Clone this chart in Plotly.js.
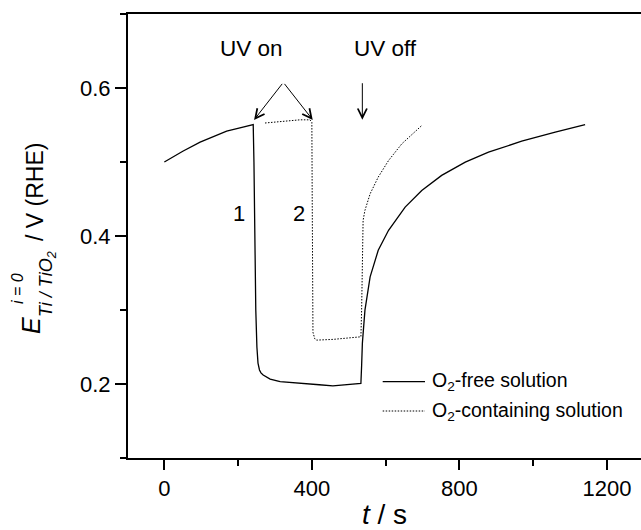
<!DOCTYPE html>
<html>
<head>
<meta charset="utf-8">
<script src="https://cdn.plot.ly/plotly-3.0.1.min.js"></script>
<style>html,body{margin:0;padding:0;background:#fff;}#chart{width:641px;height:530px;}</style>
</head>
<body>
<div id="chart"></div>
<script>
// O2-free solution (curve 1)
const tFree = [0, 50, 97, 140, 169, 205, 241, 243, 245, 248, 251, 254, 258, 262, 268, 287, 314, 350, 386, 420, 457, 495, 533, 535, 537, 544, 558, 580, 608, 653, 698, 752, 816, 879, 969, 1060, 1141];
const eFree = [0.500, 0.5145, 0.5268, 0.536, 0.5416, 0.546, 0.5506, 0.50, 0.40, 0.30, 0.25, 0.2283, 0.219, 0.215, 0.2121, 0.2067, 0.2031, 0.202, 0.2009, 0.199, 0.1975, 0.199, 0.2009, 0.225, 0.2549, 0.2998, 0.3447, 0.3807, 0.4077, 0.4391, 0.4616, 0.4819, 0.4998, 0.5133, 0.5281, 0.5403, 0.5506];
// O2-containing solution (curve 2)
const tO2 = [273, 323, 368, 395, 400, 401, 402, 403, 408, 413, 458, 504, 533, 535, 536, 537, 539, 544, 558, 580, 608, 644, 698];
const eO2 = [0.5527, 0.555, 0.557, 0.557, 0.5537, 0.45, 0.35, 0.27, 0.261, 0.2593, 0.2603, 0.2624, 0.2638, 0.30, 0.35, 0.39, 0.4212, 0.4347, 0.457, 0.4796, 0.502, 0.5246, 0.5493];
const seriesNames = ['O<sub>2</sub>-free solution', 'O<sub>2</sub>-containing solution'];
const xTickVals = [0, 400, 800, 1200];
const yTickVals = [0.2, 0.4, 0.6];

const FONT = 'Liberation Sans, Arial, Helvetica, sans-serif';

const traces = [
  {x: tFree, y: eFree, name: seriesNames[0], mode: 'lines', line: {color: '#000', width: 1.3}, showlegend: false, hoverinfo: 'skip'},
  {x: tO2, y: eO2, name: seriesNames[1], mode: 'lines', line: {color: '#000', width: 1, dash: '1.5px,1.5px'}, showlegend: false, hoverinfo: 'skip'}
];

const ann = [];
function txt(x, y, text, size, opts) {
  ann.push(Object.assign({x: x, y: y, xref: 'x', yref: 'y', text: text, showarrow: false,
    font: {family: FONT, size: size, color: '#000'}, xanchor: 'center', yanchor: 'middle'}, opts || {}));
}
function arrow(x, y, ax, ay) {
  ann.push({x: x, y: y, ax: ax, ay: ay, xref: 'x', yref: 'y', axref: 'x', ayref: 'y', text: '',
    showarrow: true, arrowhead: 5, arrowsize: 1.8, arrowwidth: 1, arrowcolor: '#000', standoff: 0, startstandoff: 0});
}
txt(236.5, 0.6537, 'UV on', 22.5);
txt(598.5, 0.6537, 'UV off', 22.5);
txt(202.6, 0.4306, '1', 22);
txt(365.4, 0.4306, '2', 22);
arrow(243.3, 0.5569, 322.7, 0.6076);
arrow(402.4, 0.5569, 322.7, 0.6076);
arrow(536.9, 0.5572, 536.9, 0.6085);

// y-axis title pieces (paper coordinates)
function ptxt(px, py, text, size, opts) {
  ann.push(Object.assign({x: (px - 128) / 513, y: (458 - py) / 444, xref: 'paper', yref: 'paper', text: text, showarrow: false,
    textangle: -90, font: {family: FONT, size: size, color: '#000'}, xanchor: 'center', yanchor: 'middle'}, opts || {}));
}
ptxt(31, 326, '<i>E</i>', 25);
ptxt(17, 289, '<i>i = 0</i>', 16);
ptxt(47, 284, '<i>Ti / TiO<sub>2</sub></i>', 18);
ptxt(35, 192, '/ V (RHE)', 23);

// legend (manual)
const legY = [381.7, 411];
ann.push({x: (430 - 128) / 513, y: (458 - legY[0]) / 444, xref: 'paper', yref: 'paper', text: seriesNames[0], showarrow: false,
  font: {family: FONT, size: 19.5, color: '#000'}, xanchor: 'left', yanchor: 'middle'});
ann.push({x: (430 - 128) / 513, y: (458 - legY[1]) / 444, xref: 'paper', yref: 'paper', text: seriesNames[1], showarrow: false,
  font: {family: FONT, size: 19.5, color: '#000'}, xanchor: 'left', yanchor: 'middle'});
const shapes = [
  {type: 'line', xref: 'paper', yref: 'paper', x0: (382.7 - 128) / 513, x1: (425 - 128) / 513, y0: (458 - legY[0]) / 444, y1: (458 - legY[0]) / 444, line: {color: '#000', width: 1.3}},
  {type: 'line', xref: 'paper', yref: 'paper', x0: (382.7 - 128) / 513, x1: (425 - 128) / 513, y0: (458 - legY[1]) / 444, y1: (458 - legY[1]) / 444, line: {color: '#000', width: 1, dash: '1.5px,1.5px'}}
];

const layout = {
  width: 641, height: 530,
  margin: {l: 128, r: 0, t: 14, b: 72, pad: 0},
  paper_bgcolor: '#fff', plot_bgcolor: '#fff',
  font: {family: FONT, size: 22, color: '#000'},
  showlegend: false,
  xaxis: {
    range: [-98.5, 1292.5], tickvals: xTickVals, ticktext: xTickVals.map(String),
    showline: true, linewidth: 2, linecolor: '#000', mirror: true,
    ticks: 'outside', ticklen: 10, tickwidth: 2, tickcolor: '#000',
    minor: {dtick: 200, tick0: 0, ticks: 'outside', ticklen: 6, tickwidth: 2, tickcolor: '#000', showgrid: false},
    showgrid: false, zeroline: false,
    tickfont: {family: FONT, size: 22, color: '#000'},
    title: {text: '<i>t</i> / s', font: {family: FONT, size: 28, color: '#000'}, standoff: 6}
  },
  yaxis: {
    range: [0.1, 0.7], tickvals: yTickVals, ticktext: yTickVals.map(v => v.toFixed(1)),
    showline: true, linewidth: 2, linecolor: '#000', mirror: false,
    ticks: 'outside', ticklen: 11, tickwidth: 2, tickcolor: '#000',
    minor: {dtick: 0.1, tick0: 0.1, ticks: 'outside', ticklen: 6, tickwidth: 2, tickcolor: '#000', showgrid: false},
    showgrid: false, zeroline: false,
    tickfont: {family: FONT, size: 22, color: '#000'}
  },
  annotations: ann,
  shapes: shapes
};

Plotly.newPlot('chart', traces, layout, {staticPlot: true, displayModeBar: false});
</script>
</body>
</html>
